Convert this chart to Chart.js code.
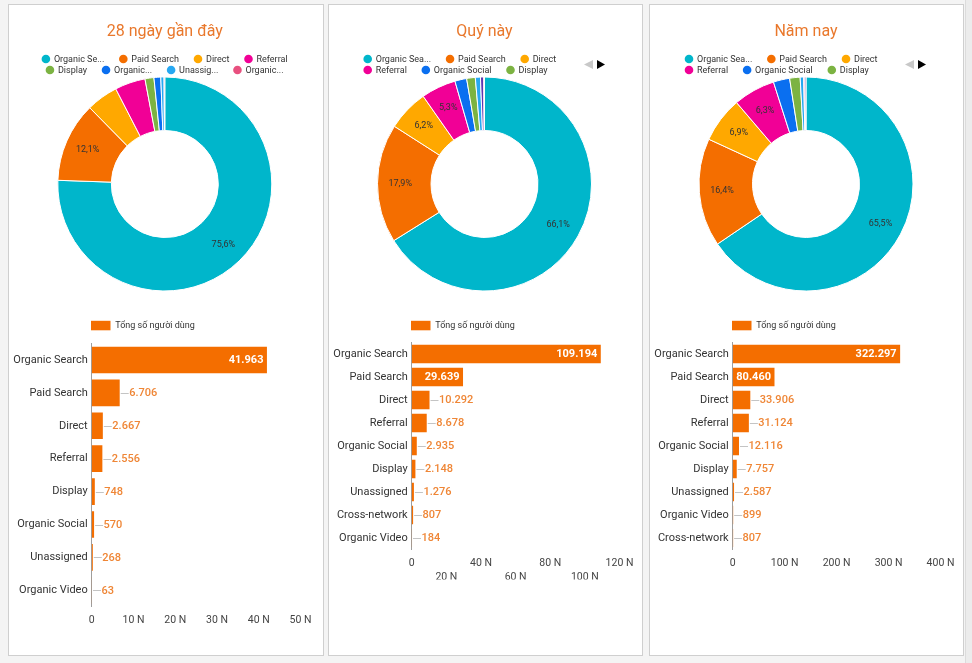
<!DOCTYPE html>
<html><head><meta charset="utf-8">
<script src="https://cdn.jsdelivr.net/npm/chart.js@4.4.1/dist/chart.umd.min.js"></script>
<style>
html,body{margin:0;padding:0;}
body{width:972px;height:663px;background:#f4f4f4;position:relative;overflow:hidden;font-family:Roboto,sans-serif;}
.panel{position:absolute;top:4px;height:652px;background:#fff;border:1px solid #cfcfcf;box-sizing:border-box;}
canvas{position:absolute;}
.scroll{position:absolute;left:965px;top:0;width:7px;height:663px;background:#ececec;border-left:1px solid #dcdcdc;box-sizing:border-box;}
</style></head><body>
<div class="panel" style="left:8px;width:316px"></div>
<div class="panel" style="left:328px;width:315px"></div>
<div class="panel" style="left:649px;width:315px"></div>
<div class="scroll"></div>
<canvas id="d1" width="314" height="305" style="left:9px;top:5px"></canvas>
<canvas id="b1" width="314" height="344" style="left:9px;top:310px"></canvas>
<canvas id="d2" width="313" height="305" style="left:329px;top:5px"></canvas>
<canvas id="b2" width="313" height="344" style="left:329px;top:310px"></canvas>
<canvas id="d3" width="313" height="305" style="left:650px;top:5px"></canvas>
<canvas id="b3" width="313" height="344" style="left:650px;top:310px"></canvas>
<script>
// ---------- DATA ----------
const titles = ['28 ngày gần đây', 'Quý này', 'Năm nay'];
const seriesName = 'Tổng số người dùng';

const cats28 = ['Organic Search','Paid Search','Direct','Referral','Display','Organic Social','Unassigned','Organic Video'];
const users28 = [41963, 6706, 2667, 2556, 748, 570, 268, 63];
const legend28 = ['Organic Se...','Paid Search','Direct','Referral','Display','Organic...','Unassig...','Organic...'];

const catsQ = ['Organic Search','Paid Search','Direct','Referral','Organic Social','Display','Unassigned','Cross-network','Organic Video'];
const usersQ = [109194, 29639, 10292, 8678, 2935, 2148, 1276, 807, 184];
const legendQ = ['Organic Sea...','Paid Search','Direct','Referral','Organic Social','Display'];

const catsY = ['Organic Search','Paid Search','Direct','Referral','Organic Social','Display','Unassigned','Organic Video','Cross-network'];
const usersY = [322297, 80460, 33906, 31124, 12116, 7757, 2587, 899, 807];
const legendY = ['Organic Sea...','Paid Search','Direct','Referral','Organic Social','Display'];

const axisMax = [50000, 120000, 400000];
const axisStep = [10000, 20000, 100000];

// ---------- STYLE ----------
const channelColors = {
  'Organic Search':'#00b6cb','Paid Search':'#f46e00','Direct':'#ffa800','Referral':'#f10096',
  'Display':'#7cb342','Organic Social':'#0a6ff0','Unassigned':'#27a8f2','Organic Video':'#e8507f',
  'Cross-network':'#5e35b1'
};
const barColor = '#f46e00';
Chart.defaults.font.family = 'Roboto, sans-serif';

function fmt(v){ return String(v).replace(/\B(?=(\d{3})+(?!\d))/g, '.'); }

const donutLabels = {
  id:'donutLabels',
  afterDatasetsDraw(chart){
    const ctx = chart.ctx, meta = chart.getDatasetMeta(0), data = chart.data.datasets[0].data;
    const total = data.reduce((a,b)=>a+b,0);
    ctx.save(); ctx.font = '9px Roboto'; ctx.fillStyle = '#333'; ctx.textAlign='center'; ctx.textBaseline='middle';
    meta.data.forEach((arc,i)=>{
      const p = data[i]/total;
      if (p < 0.05) return;
      const {startAngle,endAngle,innerRadius,outerRadius,x,y} = arc.getProps(['startAngle','endAngle','innerRadius','outerRadius','x','y'], true);
      const a = (startAngle+endAngle)/2, r = innerRadius + 0.575*(outerRadius-innerRadius);
      ctx.fillText((p*100).toFixed(1).replace('.',',')+'%', x+Math.cos(a)*r, y+Math.sin(a)*r);
    });
    ctx.restore();
  }
};

const dotLegend = {
  id:'dotLegend',
  afterDraw(chart, args, o){
    const ctx = chart.ctx;
    const cats = chart.data.labels, colors = chart.data.datasets[0].backgroundColor;
    ctx.save(); ctx.font = '9px Roboto'; ctx.textBaseline='middle'; ctx.textAlign='left';
    const rows = [o.items.slice(0,o.perRow), o.items.slice(o.perRow)];
    let idx = 0;
    rows.forEach((row, ri)=>{
      const widths = row.map(t=>ctx.measureText(t).width);
      const rowW = 4.5 + widths.reduce((s,w)=>s+8+w,0) + 19*(row.length-1) - 4.5*0;
      let cx = o.align === 'center' ? o.cx - rowW/2 + 4.5 : o.x;
      const y = o.y0 + ri*11;
      row.forEach((t,k)=>{
        ctx.fillStyle = colors[idx];
        ctx.beginPath(); ctx.arc(cx, y, 4.3, 0, Math.PI*2); ctx.fill();
        ctx.fillStyle = '#333';
        ctx.fillText(t, cx+8, y+0.5);
        cx += 8 + widths[k] + 19;
        idx++;
      });
    });
    if (o.arrows){
      const ax = chart.width - 58, ay = 59.5;
      ctx.fillStyle = '#c8c8c8';
      ctx.beginPath(); ctx.moveTo(ax, ay); ctx.lineTo(ax+9, ay-4.5); ctx.lineTo(ax+9, ay+4.5); ctx.closePath(); ctx.fill();
      ctx.fillStyle = '#000';
      ctx.beginPath(); ctx.moveTo(ax+13, ay-4.5); ctx.lineTo(ax+21, ay); ctx.lineTo(ax+13, ay+4.5); ctx.closePath(); ctx.fill();
    }
    ctx.restore();
  }
};

const barLabels = {
  id:'barLabels',
  afterDatasetsDraw(chart){
    const ctx = chart.ctx, meta = chart.getDatasetMeta(0), data = chart.data.datasets[0].data;
    ctx.save(); ctx.textBaseline='middle';
    meta.data.forEach((bar,i)=>{
      const {x,y,base} = bar.getProps(['x','y','base'], true);
      const txt = fmt(data[i]);
      ctx.font = 'bold 11px Roboto';
      const tw = ctx.measureText(txt).width;
      if (tw + 7 < x - base){
        ctx.fillStyle = '#fff'; ctx.textAlign = 'right';
        ctx.fillText(txt, x-3.5, y+0.5);
      } else {
        const ly = Math.round(y)+0.5;
        ctx.strokeStyle = '#c4c4c4'; ctx.lineWidth = 1;
        ctx.beginPath(); ctx.moveTo(x+1, ly); ctx.lineTo(x+9, ly); ctx.stroke();
        ctx.font = '500 11px Roboto'; ctx.fillStyle = '#ef8636'; ctx.textAlign = 'left';
        ctx.fillText(txt, x+9.5, y+0.5);
      }
    });
    ctx.restore();
  }
};

const barLegend = {
  id:'barLegend',
  afterDraw(chart, args, o){
    const ctx = chart.ctx, a = chart.chartArea, ds = chart.data.datasets[0];
    ctx.save();
    ctx.fillStyle = ds.backgroundColor;
    ctx.fillRect(a.left - 0.7, o.y - 4.7, 19.5, 9.5);
    ctx.font = '9px Roboto'; ctx.fillStyle = '#333'; ctx.textBaseline = 'middle'; ctx.textAlign = 'left';
    ctx.fillText(ds.label, a.left + 23.5, o.y + 0.5);
    ctx.restore();
  }
};

function makeDonut(id, title, cats, vals, legendItems, opts){
  new Chart(document.getElementById(id), {
    type:'doughnut',
    data:{labels:cats, datasets:[{data:vals, backgroundColor:cats.map(c=>channelColors[c]), borderColor:'#fff', borderWidth:1}]},
    options:{
      responsive:false, animation:false, cutout:'50%',
      layout:{padding:{top:0, bottom:18.5, left:0, right:opts.padR}},
      plugins:{
        legend:{display:false}, tooltip:{enabled:false},
        title:{display:true, text:title, color:'#e9782c', font:{size:16, weight:'normal', lineHeight:1.2}, padding:{top:17, bottom:35.3}},
        dotLegend:Object.assign({items:legendItems, y0:54}, opts.legend)
      }
    },
    plugins:[donutLabels, dotLegend]
  });
}

function makeBar(id, cats, vals, max, step, stagger, padT, padB){
  new Chart(document.getElementById(id), {
    type:'bar',
    data:{labels:cats, datasets:[{label:seriesName, data:vals, backgroundColor:barColor, borderWidth:0, barPercentage:0.81, categoryPercentage:1}]},
    options:{
      indexAxis:'y', responsive:false, animation:false,
      layout:{padding:{top:padT, right:22.5, bottom:padB, left:0}},
      scales:{
        x:{min:0, max:max,
           ticks:{stepSize:step, autoSkip:false, maxRotation:0, minRotation:0, padding:6.5, color:'#444', font:{size:10.5, lineHeight:1.3333},
                  callback:(v,i)=>{ const s = v===0 ? '0' : (v/1000)+' N'; return (stagger && i%2===1) ? ['', s] : s; }},
           grid:{display:false, drawTicks:false}, border:{display:false},
           afterFit(s){ s.height = 30; }},
        y:{ticks:{padding:4, color:'#333', font:{size:11}, autoSkip:false},
           grid:{display:false, drawTicks:false}, border:{display:true, color:'#9e9e9e', width:1},
           afterFit(s){ s.width = 82.7; }}
      },
      plugins:{legend:{display:false}, tooltip:{enabled:false}, barLegend:{y:15.5}}
    },
    plugins:[barLabels, barLegend]
  });
}

makeDonut('d1', titles[0], cats28, users28, legend28, {padR:2.4, legend:{perRow:4, align:'center', cx:155.5}});
makeDonut('d2', titles[1], catsQ, usersQ, legendQ, {padR:2, legend:{perRow:3, align:'left', x:38.7, arrows:true}});
makeDonut('d3', titles[2], catsY, usersY, legendY, {padR:1, legend:{perRow:3, align:'left', x:39, arrows:true}});

makeBar('b1', cats28, users28, axisMax[0], axisStep[0], false, 33.5, 344-296.8-30);
makeBar('b2', catsQ, usersQ, axisMax[1], axisStep[1], true, 32.5, 344-239.5-30);
makeBar('b3', catsY, usersY, axisMax[2], axisStep[2], false, 32.5, 344-239.5-30);
</script>
</body></html>
